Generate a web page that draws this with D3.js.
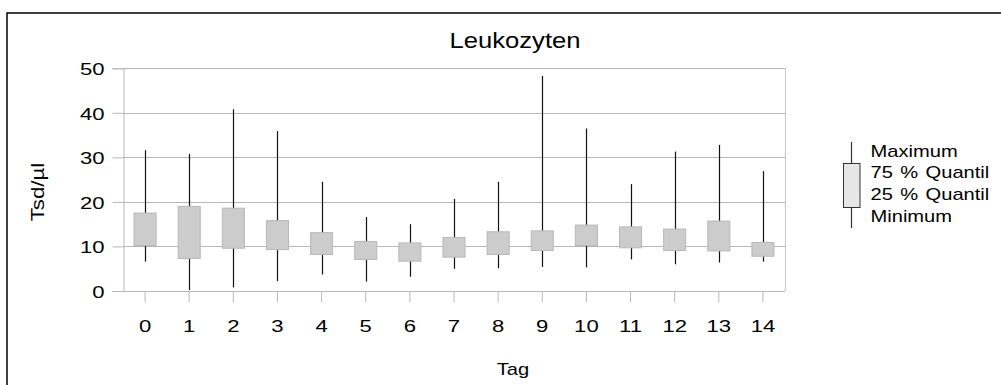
<!DOCTYPE html>
<html>
<head>
<meta charset="utf-8">
<script src="https://cdn.jsdelivr.net/npm/d3@7"></script>
<style>
  html, body { margin: 0; padding: 0; background: #fff; }
  svg { display: block; }
  text { font-family: "Liberation Sans", Arial, sans-serif; fill: #000; }
</style>
</head>
<body>
<svg id="chart" width="1001" height="385"></svg>
<script>
// Leukocyte counts per day (Tsd/µl): minimum, quartiles, maximum
const days = ["0","1","2","3","4","5","6","7","8","9","10","11","12","13","14"];
const minimum = [6.6, 0.2, 0.8, 2.2, 3.7, 2.1, 3.2, 5.0, 5.1, 5.4, 5.3, 7.1, 6.0, 6.4, 6.6];
const q25     = [10.2, 7.3, 9.6, 9.3, 8.2, 7.1, 6.7, 7.6, 8.2, 9.1, 10.2, 9.7, 9.1, 9.0, 7.8];
const q75     = [17.5, 19.0, 18.6, 15.8, 13.1, 11.1, 10.8, 12.0, 13.3, 13.5, 14.8, 14.4, 13.9, 15.7, 10.9];
const maximum = [31.6, 30.8, 40.8, 35.9, 24.5, 16.6, 15.0, 20.7, 24.5, 48.3, 36.5, 24.0, 31.3, 32.8, 26.9];
const yTicks = [0, 10, 20, 30, 40, 50];
const legendLabels = ["Maximum", "75 % Quantil", "25 % Quantil", "Minimum"];

const svg = d3.select("#chart");
const W = 1001, H = 385;
const plot = { left: 123, right: 785, top: 68.3, bottom: 291 };
const SX = 1.22;     // horizontal glyph stretch for words
const SX_NUM = 1.3;  // horizontal glyph stretch for tick numbers

const data = days.map((d, i) => ({
  day: d, min: minimum[i], q1: q25[i], q3: q75[i], max: maximum[i]
}));

const x = d3.scaleBand().domain(days).range([plot.left, plot.right]).padding(0);
const y = d3.scaleLinear().domain([0, 50]).range([plot.bottom, plot.top]);
const boxW = x.bandwidth() * 0.5;

// outer frame
svg.append("rect")
  .attr("x", 7).attr("y", 13).attr("width", W + 10).attr("height", H + 10)
  .attr("fill", "none").attr("stroke", "#000").attr("stroke-width", 1.5);

// title
svg.append("text")
  .attr("transform", `translate(515,48) scale(${SX},1.05)`)
  .attr("text-anchor", "middle").style("font-size", "21px")
  .text("Leukozyten");

// horizontal grid
svg.append("g").selectAll("line").data(yTicks).join("line")
  .attr("x1", plot.left).attr("x2", plot.right)
  .attr("y1", d => Math.round(y(d)) + 0.5).attr("y2", d => Math.round(y(d)) + 0.5)
  .attr("stroke", "#b8b8b8").attr("stroke-width", 1);

// plot side frame
svg.append("line")
  .attr("x1", plot.right + 0.5).attr("x2", plot.right + 0.5)
  .attr("y1", y(50)).attr("y2", y(0))
  .attr("stroke", "#c8c8c8");

// y axis
const yAxis = svg.append("g")
  .attr("transform", `translate(${plot.left + 0.5},0)`)
  .call(d3.axisLeft(y).tickValues(yTicks).tickSize(11).tickFormat(d3.format("d")));
yAxis.select(".domain").attr("stroke", "#b8b8b8");
yAxis.selectAll(".tick line").attr("stroke", "#b8b8b8");
yAxis.selectAll(".tick text")
  .attr("x", null).attr("dy", null)
  .attr("transform", `translate(-19,6.5) scale(${SX_NUM},1)`)
  .style("font-size", "17px").style("font-family", "'Liberation Sans', Arial, sans-serif")
  .attr("fill", "#000");

// x axis
const xAxis = svg.append("g")
  .attr("transform", `translate(0,${Math.round(y(0)) + 0.5})`)
  .call(d3.axisBottom(x).tickSize(11));
xAxis.select(".domain").remove();
xAxis.selectAll(".tick line").attr("stroke", "#b8b8b8");
xAxis.selectAll(".tick text")
  .attr("y", null).attr("dy", null)
  .attr("transform", `translate(0,40.5) scale(${SX_NUM},1)`)
  .style("font-size", "17px").style("font-family", "'Liberation Sans', Arial, sans-serif")
  .attr("fill", "#000");

// axis titles
svg.append("text")
  .attr("transform", `translate(44,192) rotate(-90) scale(1.35,1.15)`)
  .attr("text-anchor", "middle").style("font-size", "16.5px")
  .text("Tsd/µl");
svg.append("text")
  .attr("transform", `translate(513,375) scale(${SX},1.03)`)
  .attr("text-anchor", "middle").style("font-size", "16.5px")
  .text("Tag");

// whiskers (min to max)
const boxes = svg.append("g");
boxes.selectAll("line.whisker").data(data).join("line")
  .attr("class", "whisker")
  .attr("x1", d => Math.round(x(d.day) + x.bandwidth() / 2) + 0.5)
  .attr("x2", d => Math.round(x(d.day) + x.bandwidth() / 2) + 0.5)
  .attr("y1", d => y(d.min)).attr("y2", d => y(d.max))
  .attr("stroke", "#111").attr("stroke-width", 1.2);

// quartile boxes
boxes.selectAll("rect.box").data(data).join("rect")
  .attr("class", "box")
  .attr("x", d => x(d.day) + (x.bandwidth() - boxW) / 2)
  .attr("width", boxW)
  .attr("y", d => y(d.q3))
  .attr("height", d => y(d.q1) - y(d.q3))
  .attr("fill", "#cccccc").attr("stroke", "#b8b8b8").attr("stroke-width", 1);

// legend
const lg = svg.append("g");
lg.append("line")
  .attr("x1", 851.5).attr("x2", 851.5).attr("y1", 142).attr("y2", 228)
  .attr("stroke", "#333").attr("stroke-width", 1.2);
lg.append("rect")
  .attr("x", 843.5).attr("y", 163.5).attr("width", 16.5).attr("height", 44)
  .attr("fill", "#e6e6e6").attr("stroke", "#333").attr("stroke-width", 1);
lg.selectAll("text").data(legendLabels).join("text")
  .attr("transform", (d, i) => `translate(870.5,${156.5 + i * 21.9}) scale(1.22,1.03)`)
  .style("font-size", "16.5px").style("word-spacing", "1.5px")
  .text(d => d);
</script>
</body>
</html>
